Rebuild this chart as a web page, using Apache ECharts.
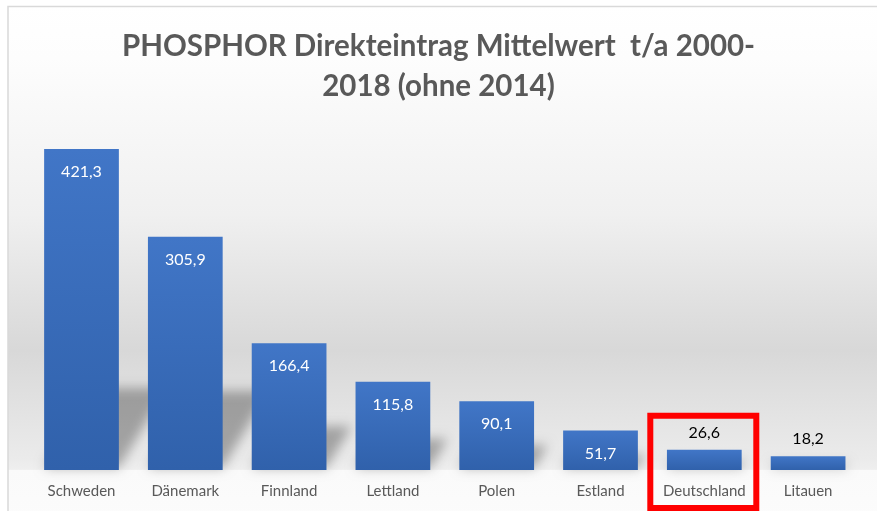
<!DOCTYPE html>
<html><head><meta charset="utf-8">
<script src="https://cdn.jsdelivr.net/npm/echarts@6/dist/echarts.min.js"></script>
<style>html,body{margin:0;padding:0;background:#fff}#c{width:877px;height:511px}</style>
</head><body><div id="c"></div>
<script>
const categories = ['Schweden', 'Dänemark', 'Finnland', 'Lettland', 'Polen', 'Estland', 'Deutschland', 'Litauen'];
const values = [421.3, 305.9, 166.4, 115.8, 90.1, 51.7, 26.6, 18.2];
const titleText = 'PHOSPHOR Direkteintrag Mittelwert  t/a 2000-\n2018 (ohne 2014)';
const highlighted = 'Deutschland';

const FONT = 'Lato';
const fmt = v => String(v).replace('.', ',');

const chart = echarts.init(document.getElementById('c'), null, {renderer: 'canvas'});

const barData = values.map(v => {
  const inside = v >= 40;
  return {
    value: v,
    label: {
      position: inside ? 'insideTop' : 'top',
      distance: inside ? 15 : 9,
      color: inside ? '#ffffff' : '#000000'
    }
  };
});

const OFF = 3000;

chart.setOption({
  animation: false,
  title: {
    text: titleText,
    left: 'center',
    top: 21,
    textStyle: {fontFamily: FONT, fontSize: 29.5, fontWeight: 'bold', color: '#595959', lineHeight: 40}
  },
  graphic: [{
    id: 'bg',
    type: 'rect',
    z: -100,
    silent: true,
    shape: {x: 8, y: 6.5, width: 900, height: 520},
    style: {
      stroke: '#d9d9d9', lineWidth: 1.5,
      fill: new echarts.graphic.LinearGradient(0, 0, 0, 1, [
        {offset: 0, color: '#ffffff'},
        {offset: 0.1, color: '#fdfdfd'},
        {offset: 0.4, color: '#f0f0f0'},
        {offset: 0.66, color: '#d8d8d8'},
        {offset: 0.87, color: '#ebebeb'},
        {offset: 0.889, color: '#efefef'},
        {offset: 0.891, color: '#fafafa'},
        {offset: 1, color: '#fcfcfc'}
      ])
    }
  }],
  grid: {left: 29.6, right: 17, top: 127, bottom: 41, containLabel: false},
  xAxis: {
    type: 'category',
    data: categories,
    axisLine: {show: false},
    axisTick: {show: false},
    axisLabel: {interval: 0, fontFamily: FONT, fontSize: 15, color: '#595959', margin: 14}
  },
  yAxis: {
    type: 'value', min: 0, max: 450, show: false, splitLine: {show: false}
  },
  series: [{
    type: 'custom',
    z: 1,
    silent: true,
    clip: false,
    data: values.map((v, i) => [i, v]),
    renderItem: function (params, api) {
      const i = api.value(0), v = api.value(1);
      const base = api.coord([i, 0]);
      const top = api.coord([i, v]);
      const bw = api.size([1, 0])[0] * 0.72;
      const h = base[1] - top[1];
      const dy = Math.min(h * 0.33, 80);
      const dx = dy * 0.6;
      const L = base[0] - bw / 2 - OFF, R = base[0] + bw / 2 - OFF, B = base[1] - 2;
      return {
        type: 'polygon',
        shape: {points: [[L, B], [R, B], [R + dx, B - dy], [L + dx, B - dy]]},
        style: {fill: '#000', shadowBlur: 12, shadowOffsetX: OFF, shadowColor: 'rgba(0,0,0,0.3)'}
      };
    }
  }, {
    type: 'bar',
    z: 3,
    data: barData,
    barCategoryGap: '28%',
    itemStyle: {
      color: new echarts.graphic.LinearGradient(0, 0, 0, 1, [
        {offset: 0, color: '#4176c7'},
        {offset: 1, color: '#3061ab'}
      ])
    },
    label: {
      show: true,
      fontFamily: FONT,
      fontSize: 16,
      formatter: p => fmt(p.value)
    }
  }]
});

function placeBox() {
  const idx = categories.indexOf(highlighted);
  const p = chart.convertToPixel({gridIndex: 0}, [idx, values[idx]]);
  const b = chart.convertToPixel({gridIndex: 0}, [idx, 0]);
  const w = 106;
  chart.setOption({
    graphic: [{
      id: 'hl',
      type: 'rect',
      z: 100,
      silent: true,
      shape: {x: p[0] - w / 2 - 1, y: p[1] - 34, width: w, height: b[1] - p[1] + 34 + 38},
      style: {fill: 'none', stroke: '#ff0000', lineWidth: 6}
    }]
  });
}
placeBox();
</script>
</body></html>
